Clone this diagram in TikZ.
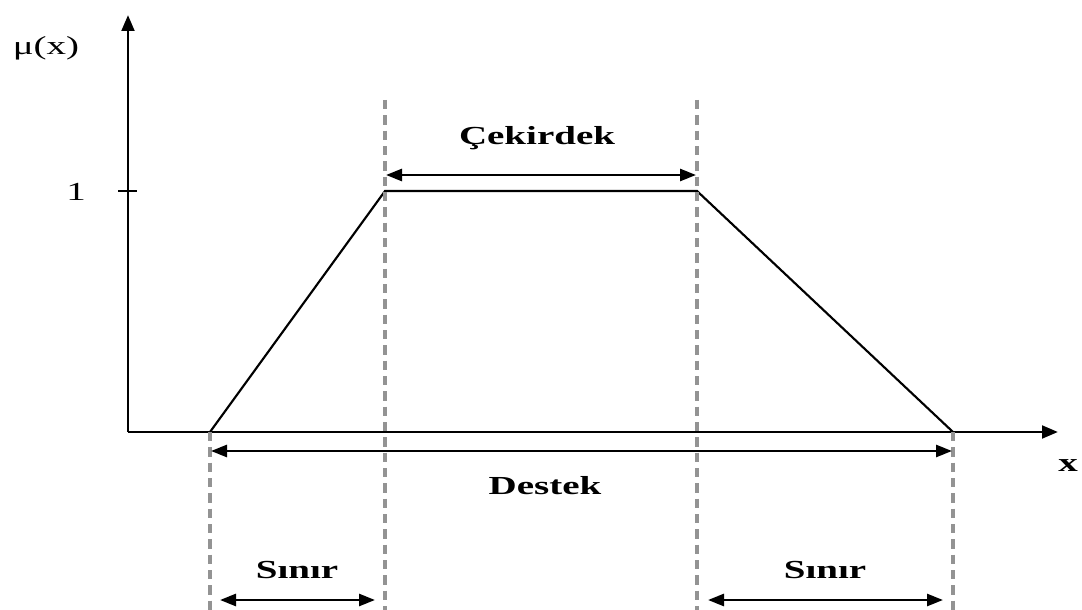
\documentclass[tikz,border=0pt]{standalone}
\usepackage{fontspec}
\setmainfont{Liberation Serif}[FakeStretch=1.5]
\usetikzlibrary{arrows.meta}
\begin{document}
\begin{tikzpicture}[x=0.75pt,y=-0.75pt,
  axis/.style={line width=2.2pt,-{Triangle[length=12pt,width=9.5pt]}},
  curve/.style={line width=1.6pt},
  guide/.style={line width=3pt,gray!85,dash pattern=on 7pt off 4.5pt},
  span/.style={line width=2pt,{Triangle[length=12pt,width=9pt]}-{Triangle[length=12pt,width=9pt]}},
  lbl/.style={font=\fontsize{19.5}{22}\selectfont\bfseries,inner sep=0pt},
  plain/.style={font=\fontsize{19.5}{22}\selectfont,inner sep=0pt}]
\useasboundingbox (0,0) rectangle (1082,610);
% axes
\coordinate (O) at (128,432);
\coordinate (ytop) at (128,15);
\coordinate (xend) at (1058,432);
\draw[axis] (O) -- (ytop);
\draw[axis] (O) -- (xend);
\coordinate (t1) at (118,191);
\coordinate (t2) at (137,191);
\draw[line width=1.6pt] (t1) -- (t2);
\node[plain] (one) at (76,192) {1};
\node[plain] (mu) at (46,48) {μ(x)};
\node[lbl] (xl) at (1068,466) {x};
% trapezoid membership function
\coordinate (a) at (210,432);
\coordinate (b) at (385,191);
\coordinate (c) at (697,191);
\coordinate (d) at (953,432);
\draw[curve] (a) -- (b) -- (c) -- (d);
% guide lines
\coordinate (bt) at (385,100);
\coordinate (bb) at (385,610);
\coordinate (ct) at (697,100);
\coordinate (cb) at (697,610);
\coordinate (ab) at (210,610);
\coordinate (db) at (953,610);
\draw[guide] (bt) -- (bb);
\draw[guide] (ct) -- (cb);
\draw[guide] (a) -- (ab);
\draw[guide] (d) -- (db);
% core
\coordinate (k1) at (386,175);
\coordinate (k2) at (696,175);
\draw[span] (k1) -- (k2);
\node[lbl] (core) at (537,138) {Çekirdek};
% support
\coordinate (s1) at (211,451);
\coordinate (s2) at (952,451);
\draw[span] (s1) -- (s2);
\node[lbl] (supp) at (545,486) {Destek};
% boundaries
\coordinate (l1) at (220,600);
\coordinate (l2) at (375,600);
\draw[span] (l1) -- (l2);
\node[lbl] (bl) at (297,570) {Sınır};
\coordinate (r1) at (708,600);
\coordinate (r2) at (943,600);
\draw[span] (r1) -- (r2);
\node[lbl] (br) at (825,570) {Sınır};
\end{tikzpicture}
\end{document}
